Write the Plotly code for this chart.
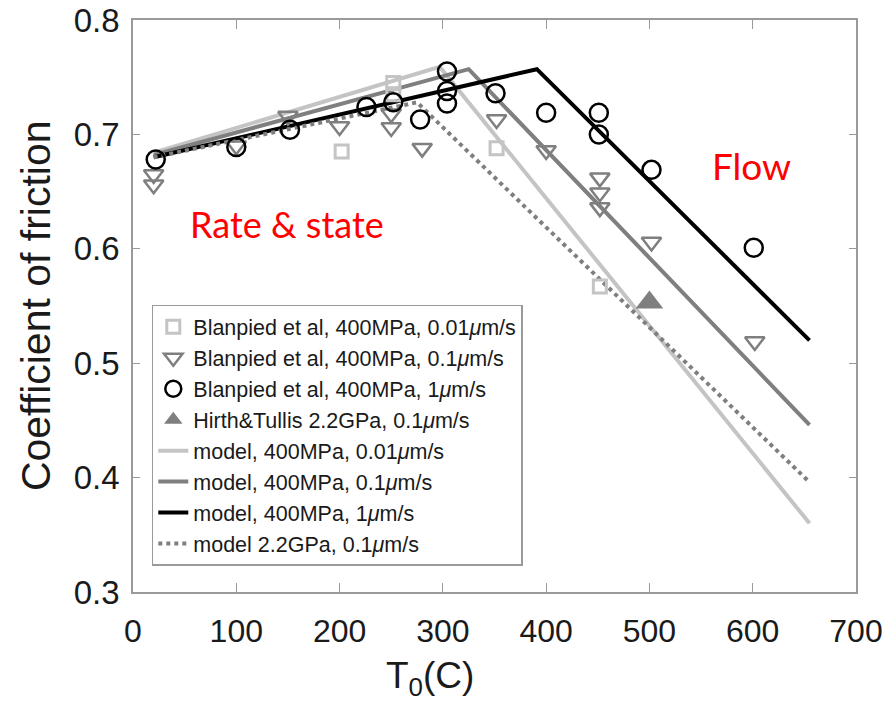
import plotly.graph_objects as go

# ---- data ----
sq_T = [202, 252, 252, 352, 452]
sq_mu = [0.685, 0.745, 0.735, 0.688, 0.567]

tri_T = [20, 20, 100, 150, 200, 250, 250, 280, 352, 400, 452, 452, 452, 502, 602]
tri_mu = [0.665, 0.656, 0.690, 0.716, 0.707, 0.718, 0.706, 0.688, 0.713, 0.686, 0.662, 0.649, 0.636, 0.606, 0.519]

circ_T = [22, 100, 152, 226, 252, 278, 304, 304, 304, 351, 400, 451, 451, 502, 601]
circ_mu = [0.678, 0.689, 0.704, 0.724, 0.728, 0.713, 0.755, 0.738, 0.727, 0.736, 0.719, 0.719, 0.700, 0.669, 0.601]

ht_T = [500]
ht_mu = [0.553]

model001_T = [20, 297, 655]
model001_mu = [0.684, 0.759, 0.360]
model01_T = [20, 325, 655]
model01_mu = [0.682, 0.757, 0.446]
model1_T = [20, 391, 655]
model1_mu = [0.680, 0.757, 0.520]
model22_T = [20, 275, 655]
model22_mu = [0.680, 0.728, 0.396]

x_ticks = [0, 100, 200, 300, 400, 500, 600, 700]
y_ticks = [0.3, 0.4, 0.5, 0.6, 0.7, 0.8]

LIGHT = "#c4c4c4"
DARK = "#7f7f7f"
BLACK = "#000000"
MU = "<i>μ</i>"

fig = go.Figure()

# model lines (drawn first, ranked after the markers in the legend)
fig.add_trace(go.Scatter(x=model001_T, y=model001_mu, mode="lines",
                         line=dict(color=LIGHT, width=4),
                         name=f"model, 400MPa, 0.01{MU}m/s", legendrank=5))
fig.add_trace(go.Scatter(x=model01_T, y=model01_mu, mode="lines",
                         line=dict(color=DARK, width=4),
                         name=f"model, 400MPa, 0.1{MU}m/s", legendrank=6))
fig.add_trace(go.Scatter(x=model1_T, y=model1_mu, mode="lines",
                         line=dict(color=BLACK, width=4),
                         name=f"model, 400MPa, 1{MU}m/s", legendrank=7))
fig.add_trace(go.Scatter(x=model22_T, y=model22_mu, mode="lines",
                         line=dict(color=DARK, width=4, dash="dot"),
                         name=f"model 2.2GPa, 0.1{MU}m/s", legendrank=8))

# data markers
fig.add_trace(go.Scatter(x=sq_T, y=sq_mu, mode="markers",
                         marker=dict(symbol="square-open", size=13, color=LIGHT,
                                     line=dict(width=3, color=LIGHT)),
                         name=f"Blanpied et al, 400MPa, 0.01{MU}m/s", legendrank=1))
fig.add_trace(go.Scatter(x=tri_T, y=tri_mu, mode="markers",
                         marker=dict(symbol="triangle-down-open", size=17, color=DARK,
                                     line=dict(width=2.5, color=DARK)),
                         name=f"Blanpied et al, 400MPa, 0.1{MU}m/s", legendrank=2))
fig.add_trace(go.Scatter(x=circ_T, y=circ_mu, mode="markers",
                         marker=dict(symbol="circle-open", size=18, color=BLACK,
                                     line=dict(width=2.5, color=BLACK)),
                         name=f"Blanpied et al, 400MPa, 1{MU}m/s", legendrank=3))
fig.add_trace(go.Scatter(x=ht_T, y=ht_mu, mode="markers",
                         marker=dict(symbol="triangle-up", size=24, color=DARK,
                                     line=dict(width=0)),
                         name="Hirth&Tullis 2.2GPa, 0.1" + MU + "m/s", legendrank=4))

AX_COLOR = "#9a9a9a"
TICK_FONT_Y = dict(family="Liberation Sans, Arial, sans-serif", size=33, color="#1a1a1a")
TICK_FONT_X = dict(family="Liberation Sans, Arial, sans-serif", size=32, color="#1a1a1a")

# page body has an 8px margin, so the figure is 874x694 and offsets are compensated
fig.update_layout(
    width=874, height=694,
    margin=dict(l=125, r=26, t=12, b=110, autoexpand=False),
    paper_bgcolor="white", plot_bgcolor="white",
    showlegend=True,
    legend=dict(x=0.026, y=0.502, xanchor="left", yanchor="top",
                bgcolor="white", bordercolor=AX_COLOR, borderwidth=1.5,
                font=dict(family="Liberation Sans, Arial, sans-serif", size=21.5, color="#1a1a1a"),
                tracegroupgap=0, itemwidth=30),
    xaxis=dict(range=[0, 700], tickvals=x_ticks, ticktext=[str(v) for v in x_ticks],
               showgrid=False, zeroline=False, showline=True, linecolor=AX_COLOR, linewidth=1.5,
               mirror="ticks", ticks="inside", ticklen=9, tickcolor=AX_COLOR, tickwidth=1.2,
               tickfont=TICK_FONT_X, ticklabelstandoff=10, automargin=False,
               ticklabeloverflow="allow"),
    yaxis=dict(range=[0.3, 0.8], tickvals=y_ticks, ticktext=[f"{v:.1f}" for v in y_ticks],
               showgrid=False, zeroline=False, showline=True, linecolor=AX_COLOR, linewidth=1.5,
               mirror="ticks", ticks="inside", ticklen=7, tickcolor=AX_COLOR, tickwidth=1.2,
               tickfont=TICK_FONT_Y, ticklabelstandoff=5, automargin=False,
               ticklabeloverflow="allow"),
    annotations=[
        dict(text="Coefficient of friction", xref="paper", yref="paper",
             x=-0.134, y=0.5, xanchor="center", yanchor="middle", textangle=-90,
             showarrow=False,
             font=dict(family="Liberation Sans, Arial, sans-serif", size=41, color="#1a1a1a")),
        dict(text="T<sub>0</sub>(C)", xref="paper", yref="paper",
             x=0.411, y=-0.151, xanchor="center", yanchor="middle", showarrow=False,
             font=dict(family="Liberation Sans, Arial, sans-serif", size=37, color="#1a1a1a")),
        dict(text="Rate &amp; state", xref="x", yref="y", x=149, y=0.622,
             xanchor="center", yanchor="middle", showarrow=False,
             font=dict(family="Lato, sans-serif", size=36, color="#ff0000")),
        dict(text="Flow", xref="x", yref="y", x=599, y=0.673,
             xanchor="center", yanchor="middle", showarrow=False,
             font=dict(family="Lato, sans-serif", size=37, color="#ff0000")),
    ],
)

fig.write_html("out.html")
